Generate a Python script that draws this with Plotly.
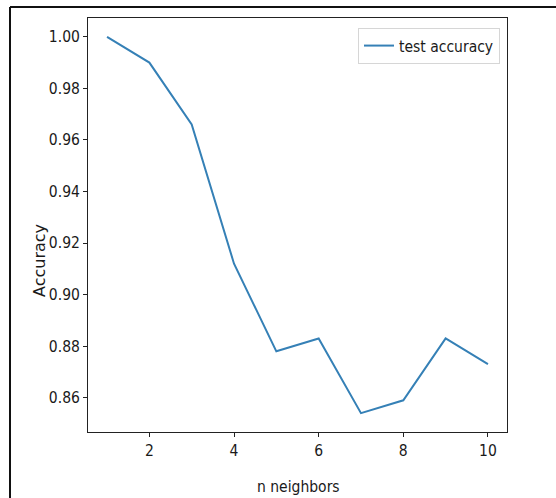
import plotly.graph_objects as go

n_neighbors = [1, 2, 3, 4, 5, 6, 7, 8, 9, 10]
test_accuracy = [1.000, 0.990, 0.966, 0.912, 0.878, 0.883, 0.854, 0.859, 0.883, 0.873]
x_ticks = [2, 4, 6, 8, 10]
y_ticks = [0.86, 0.88, 0.90, 0.92, 0.94, 0.96, 0.98, 1.00]

W, H = 556, 498
L, R, T, B = 88, 49, 18, 66
pw, ph = W - L - R, H - T - B

NARROW = "Noto Sans ExtraCondensed, Noto Sans Condensed, Liberation Sans Narrow, DejaVu Sans Condensed, sans-serif"

fig = go.Figure()
fig.add_trace(go.Scatter(
    x=n_neighbors, y=test_accuracy, mode="lines", name="test accuracy",
    line=dict(color="#3580b6", width=2),
))

tick_font = dict(family=NARROW, size=15.5, color="#1a1a1a")
fig.update_layout(
    width=W, height=H,
    margin=dict(l=L, r=R, t=T, b=B, pad=0),
    paper_bgcolor="white", plot_bgcolor="white",
    showlegend=True,
    legend=dict(x=(500 - L) / pw, y=1 - (28 - T) / ph, xanchor="right", yanchor="top",
                bgcolor="white", bordercolor="#d6d6d6", borderwidth=1,
                font=dict(family=NARROW, size=15.5, color="#1a1a1a")),
    xaxis=dict(range=[0.55, 10.45], tickvals=x_ticks, ticktext=[str(v) for v in x_ticks],
               showgrid=False, zeroline=False, showline=True, linecolor="#222", linewidth=1,
               mirror=True, ticks="outside", ticklen=4, tickcolor="#222", tickfont=tick_font),
    yaxis=dict(range=[0.8467, 1.0073], tickvals=y_ticks, ticktext=[f"{v:.2f}" for v in y_ticks],
               showgrid=False, zeroline=False, showline=True, linecolor="#222", linewidth=1,
               mirror=True, ticks="outside", ticklen=4, tickcolor="#222", tickfont=tick_font),
    annotations=[
        dict(text="n neighbors", xref="paper", yref="paper",
             x=(298 - L) / pw, y=-(487 - (T + ph)) / ph, xanchor="center", yanchor="middle",
             showarrow=False, font=dict(family=NARROW, size=15.5, color="#1a1a1a")),
        dict(text="Accuracy", xref="paper", yref="paper", textangle=-90,
             x=(39 - L) / pw, y=1 - (261 - T) / ph, xanchor="center", yanchor="middle",
             showarrow=False, font=dict(family="DejaVu Sans", size=16, color="#1a1a1a")),
    ],
)

# outer figure frame (left and top edges)
x0 = (10 - L) / pw
x1 = (W - L) / pw
y_top = 1 + (T - 7) / ph
y_bot = -(H - (T + ph)) / ph
fig.add_shape(type="line", xref="paper", yref="paper", x0=x0, x1=x1, y0=y_top, y1=y_top,
              line=dict(color="#111", width=2))
fig.add_shape(type="line", xref="paper", yref="paper", x0=x0, x1=x0, y0=y_top, y1=y_bot,
              line=dict(color="#111", width=2))

fig.write_html("out.html", config={"displayModeBar": False},
               post_script="document.body.style.margin='0';document.body.style.overflow='hidden';")
